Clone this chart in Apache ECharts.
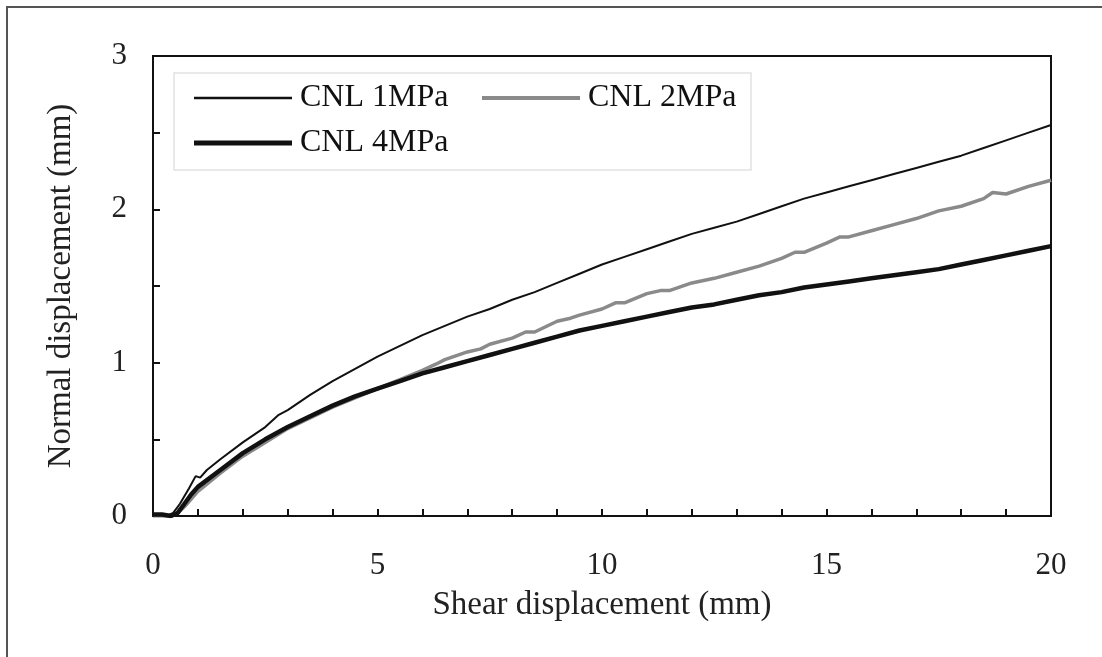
<!DOCTYPE html>
<html>
<head>
<meta charset="utf-8">
<script src="https://cdn.jsdelivr.net/npm/echarts@6/dist/echarts.min.js"></script>
<style>
html,body{margin:0;padding:0;background:#fff;}
#chart{width:1102px;height:657px;}
</style>
</head>
<body>
<div id="chart"></div>
<script>
// Shear displacement (mm) vs Normal displacement (mm)
var seriesNames = ['CNL 1MPa', 'CNL 2MPa', 'CNL 4MPa'];
var xTicks = [0, 5, 10, 15, 20];
var yTicks = [0, 1, 2, 3];

var cnl1 = [[0,0],[0.3,0],[0.45,0.02],[0.6,0.08],[0.8,0.18],[0.95,0.26],[1.05,0.25],[1.2,0.3],[1.5,0.37],[2,0.48],[2.5,0.58],[2.8,0.66],[3,0.69],[3.5,0.79],[4,0.88],[4.5,0.96],[5,1.04],[5.5,1.11],[6,1.18],[6.5,1.24],[7,1.3],[7.5,1.35],[8,1.41],[8.5,1.46],[9,1.52],[9.5,1.58],[10,1.64],[10.5,1.69],[11,1.74],[11.5,1.79],[12,1.84],[12.5,1.88],[13,1.92],[13.5,1.97],[14,2.02],[14.5,2.07],[15,2.11],[15.5,2.15],[16,2.19],[16.5,2.23],[17,2.27],[17.5,2.31],[18,2.35],[18.5,2.4],[19,2.45],[19.5,2.5],[20,2.55]];

var cnl2 = [[0,0],[0.4,0],[0.55,0.02],[0.7,0.06],[0.85,0.11],[1,0.16],[1.5,0.28],[2,0.39],[2.5,0.48],[3,0.57],[3.5,0.64],[4,0.71],[4.5,0.77],[5,0.83],[5.5,0.89],[6,0.95],[6.3,0.99],[6.5,1.02],[7,1.07],[7.3,1.09],[7.5,1.12],[8,1.16],[8.3,1.2],[8.5,1.2],[9,1.27],[9.3,1.29],[9.5,1.31],[10,1.35],[10.3,1.39],[10.5,1.39],[11,1.45],[11.3,1.47],[11.5,1.47],[12,1.52],[12.5,1.55],[13,1.59],[13.5,1.63],[14,1.68],[14.3,1.72],[14.5,1.72],[15,1.78],[15.3,1.82],[15.5,1.82],[16,1.86],[16.5,1.9],[17,1.94],[17.5,1.99],[18,2.02],[18.5,2.07],[18.7,2.11],[19,2.1],[19.5,2.15],[20,2.19]];

var cnl4 = [[0,0.01],[0.2,0.01],[0.4,0],[0.55,0.02],[0.7,0.08],[0.85,0.14],[1,0.19],[1.5,0.3],[2,0.41],[2.5,0.5],[3,0.58],[3.5,0.65],[4,0.72],[4.5,0.78],[5,0.83],[5.5,0.88],[6,0.93],[6.5,0.97],[7,1.01],[7.5,1.05],[8,1.09],[8.5,1.13],[9,1.17],[9.5,1.21],[10,1.24],[10.5,1.27],[11,1.3],[11.5,1.33],[12,1.36],[12.5,1.38],[13,1.41],[13.5,1.44],[14,1.46],[14.5,1.49],[15,1.51],[15.5,1.53],[16,1.55],[16.5,1.57],[17,1.59],[17.5,1.61],[18,1.64],[18.5,1.67],[19,1.7],[19.5,1.73],[20,1.76]];

var FONT = '"Liberation Serif", "Times New Roman", serif';
var chart = echarts.init(document.getElementById('chart'), null, {renderer: 'canvas'});

var legendText = {fontFamily: FONT, fontSize: 32, color: '#111', padding: [0, 0, 0, 3]};
function legendFor(name, color, h, left, top) {
  return {data: [{name: name, icon: 'rect', itemStyle: {color: color, borderWidth: 0}}], left: left, top: top, padding: 0,
    itemWidth: 98, itemHeight: h, textStyle: legendText, selectedMode: false};
}

var option = {
  backgroundColor: '#fff',
  animation: false,
  grid: {left: 153, top: 56, right: 51, bottom: 141, show: true, borderColor: '#111', borderWidth: 2, backgroundColor: 'transparent'},
  graphic: [
    {type: 'polyline', shape: {points: [[7, 657], [7, 7], [1102, 7]]}, style: {stroke: '#555', lineWidth: 2, fill: null}, silent: true},
    {type: 'rect', shape: {x: 174, y: 73, width: 577, height: 97}, style: {stroke: '#e2e2e2', lineWidth: 1.5, fill: null}, silent: true, z: 1}
  ],
  legend: [
    legendFor(seriesNames[0], '#111', 2.5, 194, 82),
    legendFor(seriesNames[1], '#8a8a8a', 4, 482, 82),
    legendFor(seriesNames[2], '#111', 5, 194, 127)
  ],
  xAxis: {
    type: 'value', min: xTicks[0], max: xTicks[xTicks.length - 1], interval: 5,
    name: 'Shear displacement (mm)', nameLocation: 'middle', nameGap: 73,
    nameTextStyle: {fontFamily: FONT, fontSize: 33, color: '#222'},
    axisLine: {show: true, onZero: false, lineStyle: {color: '#111', width: 2}},
    axisTick: {show: true, inside: true, length: 7, lineStyle: {color: '#111', width: 2}},
    minorTick: {show: true, splitNumber: 5, length: 7, lineStyle: {color: '#111', width: 2}},
    axisLabel: {fontFamily: FONT, fontSize: 31, color: '#222', margin: 34},
    splitLine: {show: false}, minorSplitLine: {show: false}
  },
  yAxis: {
    type: 'value', min: yTicks[0], max: yTicks[yTicks.length - 1], interval: 1,
    name: 'Normal displacement (mm)', nameLocation: 'middle', nameGap: 75,
    nameTextStyle: {fontFamily: FONT, fontSize: 33, color: '#222'},
    axisLine: {show: true, onZero: false, lineStyle: {color: '#111', width: 2}},
    axisTick: {show: true, inside: true, length: 7, lineStyle: {color: '#111', width: 2}},
    minorTick: {show: true, splitNumber: 2, length: 7, lineStyle: {color: '#111', width: 2}},
    axisLabel: {fontFamily: FONT, fontSize: 31, color: '#222', margin: 26},
    splitLine: {show: false}, minorSplitLine: {show: false}
  },
  series: [
    {name: seriesNames[0], type: 'line', data: cnl1, symbol: 'none', showSymbol: false, lineStyle: {color: '#111', width: 2}, itemStyle: {color: '#111'}, z: 3},
    {name: seriesNames[1], type: 'line', data: cnl2, symbol: 'none', showSymbol: false, lineStyle: {color: '#8a8a8a', width: 3.5}, itemStyle: {color: '#8a8a8a'}, z: 3},
    {name: seriesNames[2], type: 'line', data: cnl4, symbol: 'none', showSymbol: false, lineStyle: {color: '#111', width: 4.5}, itemStyle: {color: '#111'}, z: 4}
  ]
};
chart.setOption(option);
</script>
</body>
</html>
